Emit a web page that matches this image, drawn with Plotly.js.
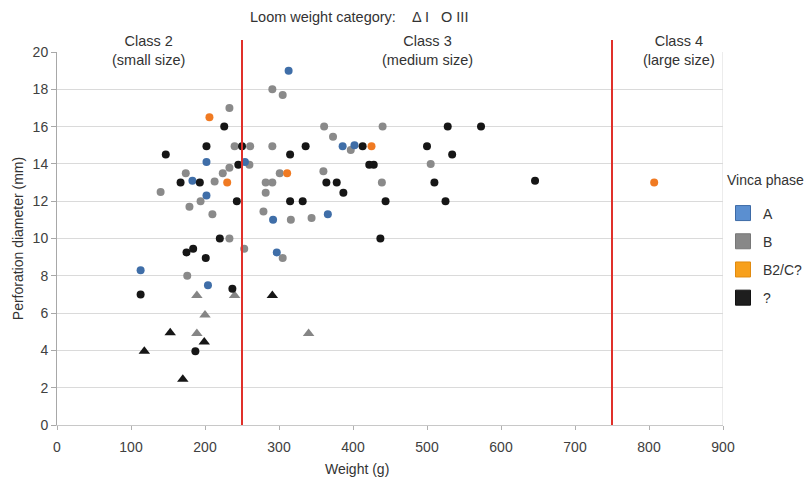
<!DOCTYPE html>
<html>
<head>
<meta charset="utf-8">
<script src="https://cdn.plot.ly/plotly-3.0.1.min.js"></script>
<style>html,body{margin:0;padding:0;background:#fff;}#chart{width:809px;height:481px;}</style>
</head>
<body>
<div id="chart"></div>
<script>
// Vinca phase A (circles, loom weight category III)
var blueX = [202, 254, 183, 202, 113, 204, 313, 386, 402, 292, 366, 297];
var blueY = [14.1, 14.1, 13.1, 12.3, 8.3, 7.5, 19.0, 14.95, 15.0, 11.0, 11.3, 9.25];

// Vinca phase B2/C? (circles)
var orangeX = [206, 230, 425, 311, 807];
var orangeY = [16.5, 13.0, 14.95, 13.5, 13.0];

// Vinca phase B, circles (category III)
var grayCircX = [233, 240, 261, 260, 233, 174, 224, 213, 140, 194, 179, 210, 233, 253, 176,
                 291, 305, 361, 440, 373, 291, 397, 301, 360, 282, 291, 439, 282, 279, 316, 344, 305, 505];
var grayCircY = [17.0, 14.95, 14.95, 13.95, 13.8, 13.5, 13.5, 13.05, 12.5, 12.0, 11.7, 11.3, 10.0, 9.45, 8.0,
                 18.0, 17.7, 16.0, 16.0, 15.45, 14.95, 14.75, 13.5, 13.6, 13.0, 13.0, 13.0, 12.45, 11.45, 11.0, 11.1, 8.95, 14.0];

// Vinca phase B, triangles (category I)
var grayTriX = [189, 240, 200, 189, 340];
var grayTriY = [6.95, 6.95, 5.9, 4.9, 4.9];

// Vinca phase ?, circles (category III)
var blackCircX = [226, 202, 250, 147, 245, 167, 193, 243, 220, 175, 184, 201, 237, 113, 187,
                  336, 413, 315, 422, 428, 364, 378, 387, 315, 332, 444, 437, 528, 573, 500, 534, 510, 646, 525];
var blackCircY = [16.0, 14.95, 14.95, 14.5, 13.95, 13.0, 13.0, 12.0, 10.0, 9.25, 9.45, 8.95, 7.3, 7.0, 3.95,
                  14.95, 14.95, 14.5, 13.95, 13.95, 13.0, 13.0, 12.45, 12.0, 12.0, 12.0, 10.0, 16.0, 16.0, 14.95, 14.5, 13.0, 13.1, 12.0];

// Vinca phase ?, triangles (category I)
var blackTriX = [153, 199, 118, 170, 291];
var blackTriY = [4.95, 4.45, 3.95, 2.45, 6.95];

// Legend categories
var phaseNames = ['A', 'B', 'B2/C?', '?'];
var phaseLegendColors = ['#5b8fd0', '#888888', '#f7a01c', '#1e1e1e'];
var phaseLegendLines = ['#3d6aa6', '#777777', '#e08a10', '#111111'];

// Size classes
var classBounds = [250, 750];
var classLabels = ['Class 2<br>(small size)', 'Class 3<br>(medium size)', 'Class 4<br>(large size)'];
var classLabelX = [123, 500, 841];

var axisMax = 900;

var FONT = 'Liberation Sans, Arial, sans-serif';
var TXT = '#333333';

function pts(x, y, color, symbol, size) {
  return {
    type: 'scatter', mode: 'markers', x: x, y: y, showlegend: false, hoverinfo: 'x+y',
    marker: {color: color, symbol: symbol, size: size, line: {width: 0}}
  };
}

var traces = [
  pts(grayCircX, grayCircY, '#8a8a8a', 'circle', 8),
  pts(grayTriX, grayTriY, '#858585', 'triangle-up', 10),
  pts(blueX, blueY, '#3f6ea8', 'circle', 8),
  pts(orangeX, orangeY, '#f07a22', 'circle', 8),
  pts(blackCircX, blackCircY, '#161616', 'circle', 8),
  pts(blackTriX, blackTriY, '#161616', 'triangle-up', 10)
];

phaseNames.forEach(function (n, i) {
  traces.push({
    type: 'scatter', mode: 'markers', x: [null], y: [null], name: n,
    legendgroup: 'g' + i, showlegend: true,
    marker: {symbol: 'square', size: 15, color: phaseLegendColors[i], line: {width: 1, color: phaseLegendLines[i]}}
  });
});

var shapes = classBounds.map(function (b) {
  return {type: 'line', xref: 'x', yref: 'paper', x0: b, x1: b, y0: 0, y1: 1.032,
          line: {color: '#e0302a', width: 2}, layer: 'above'};
});
shapes.push({type: 'line', xref: 'x', yref: 'paper', x0: axisMax, x1: axisMax, y0: 0, y1: 1,
             line: {color: '#d9d9d9', width: 1}, layer: 'below'});

var annotations = classLabels.map(function (t, i) {
  return {text: t, xref: 'x', yref: 'paper', x: classLabelX[i], y: 1.055, yanchor: 'top',
          showarrow: false, font: {family: FONT, size: 14.5, color: TXT}, align: 'center'};
});
annotations.push({
  text: 'Loom weight category:    \u0394 I   O III', xref: 'paper', yref: 'paper',
  x: 0.453, y: 1.094, yanchor: 'middle', showarrow: false,
  font: {family: FONT, size: 14.5, color: TXT}
});
annotations.push({
  text: 'Weight (g)', xref: 'paper', yref: 'paper', x: 0.451, y: -0.118, yanchor: 'middle',
  showarrow: false, font: {family: FONT, size: 14, color: TXT}
});
annotations.push({
  text: 'Vinca phase', xref: 'paper', yref: 'paper', x: 1.003, xanchor: 'left', y: 0.657, yanchor: 'middle',
  showarrow: false, font: {family: FONT, size: 14, color: TXT}
});

var layout = {
  width: 809, height: 481,
  margin: {l: 57, r: 86, t: 52, b: 56, autoexpand: false},
  paper_bgcolor: '#ffffff', plot_bgcolor: '#ffffff',
  font: {family: FONT, size: 14, color: TXT},
  xaxis: {
    range: [0, axisMax], tick0: 0, dtick: 100, showgrid: false, zeroline: false,
    showline: true, linecolor: '#c8c8c8', linewidth: 1,
    ticks: 'outside', ticklen: 4, tickcolor: '#b0b0b0', ticklabelstandoff: 5,
    tickfont: {family: FONT, size: 14, color: '#404040'}
  },
  yaxis: {
    range: [0, 20], tick0: 0, dtick: 2, showgrid: true, gridcolor: '#dadada', gridwidth: 1,
    zeroline: false, showline: true, linecolor: '#a8a8a8', linewidth: 1,
    ticks: 'outside', ticklen: 5, tickcolor: '#a8a8a8',
    tickfont: {family: FONT, size: 14, color: '#404040'},
    title: {text: 'Perforation diameter (mm)', font: {family: FONT, size: 14, color: TXT}, standoff: 5}
  },
  legend: {
    x: 1.0, xanchor: 'left', y: 0.61, yanchor: 'top',
    font: {family: FONT, size: 14, color: TXT},
    tracegroupgap: 7, bgcolor: 'rgba(0,0,0,0)'
  },
  shapes: shapes,
  annotations: annotations
};

Plotly.newPlot('chart', traces, layout, {displayModeBar: false, staticPlot: true});
</script>
</body>
</html>
